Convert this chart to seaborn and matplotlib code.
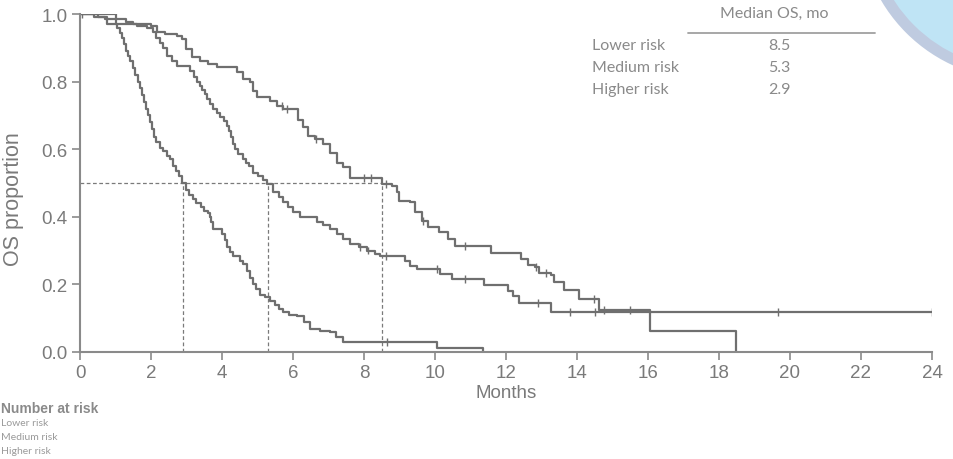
import numpy as np
import pandas as pd
import matplotlib
matplotlib.use("Agg")
import matplotlib.pyplot as plt
from matplotlib.patches import Ellipse
import seaborn as sns

# ---------------- data ----------------
groups = ["Lower risk", "Medium risk", "Higher risk"]
medians = [8.5, 5.3, 2.9]

lower_t = [0, 1.0, 1.3, 1.5, 2.0, 2.16, 2.4, 2.72, 2.87, 3.0, 3.15, 3.38, 3.6, 3.85, 4.41, 4.6, 4.79, 4.88,
           4.98, 5.35, 5.54, 5.73, 6.15, 6.29, 6.42, 6.62, 6.85, 7.04, 7.23, 7.42, 7.6, 8.5, 8.78, 8.92, 9.0,
           9.3, 9.44, 9.62, 9.8, 10.12, 10.38, 10.56, 11.57, 12.42, 12.62, 12.82, 12.92, 13.27, 13.35, 13.62,
           14.07, 14.62, 16.06, 18.49]
lower_s = [1.0, 0.985, 0.975, 0.97, 0.965, 0.947, 0.94, 0.935, 0.925, 0.896, 0.872, 0.861, 0.852, 0.842,
           0.827, 0.807, 0.80, 0.773, 0.754, 0.743, 0.728, 0.719, 0.685, 0.665, 0.64, 0.63, 0.615, 0.59, 0.56,
           0.546, 0.515, 0.497, 0.49, 0.473, 0.447, 0.443, 0.414, 0.388, 0.37, 0.355, 0.333, 0.314, 0.294,
           0.276, 0.258, 0.251, 0.234, 0.227, 0.207, 0.182, 0.156, 0.125, 0.061, 0.0]
lower_c = [0.05, 5.7, 5.82, 6.65, 8.0, 8.2, 8.62, 9.65, 10.85, 12.85, 13.12, 14.47, 14.77, 15.5]

medium_t = [0, 0.4, 0.7, 1.0, 1.6, 1.9, 2.06, 2.15, 2.25, 2.35, 2.45, 2.6, 2.73, 3.1, 3.2, 3.3, 3.38, 3.45,
            3.52, 3.57, 3.66, 3.75, 3.85, 3.95, 4.05, 4.14, 4.2, 4.25, 4.3, 4.36, 4.45, 4.6, 4.68, 4.75, 4.87,
            5.0, 5.15, 5.27, 5.44, 5.6, 5.72, 5.85, 6.0, 6.2, 6.67, 6.85, 7.04, 7.25, 7.41, 7.6, 7.85, 8.08,
            8.3, 8.45, 9.15, 9.3, 9.5, 10.14, 10.48, 11.37, 12.07, 12.2, 12.37, 13.27]
medium_s = [1.0, 0.99, 0.985, 0.97, 0.965, 0.96, 0.947, 0.93, 0.915, 0.9, 0.876, 0.86, 0.846, 0.83, 0.815,
            0.80, 0.788, 0.775, 0.762, 0.75, 0.735, 0.72, 0.707, 0.695, 0.683, 0.67, 0.655, 0.635, 0.615, 0.60,
            0.585, 0.57, 0.56, 0.55, 0.53, 0.52, 0.51, 0.497, 0.473, 0.458, 0.443, 0.43, 0.414, 0.40, 0.385,
            0.375, 0.364, 0.35, 0.334, 0.32, 0.31, 0.30, 0.29, 0.284, 0.27, 0.255, 0.245, 0.23, 0.216, 0.198,
            0.18, 0.166, 0.145, 0.118]
medium_c = [7.9, 8.1, 8.62, 10.05, 10.85, 12.9, 13.8, 14.5, 19.66, 24.0]

higher_t = [0, 0.5, 0.75, 1.05, 1.12, 1.18, 1.24, 1.3, 1.36, 1.42, 1.48, 1.55, 1.62, 1.68, 1.74, 1.8, 1.86,
            1.92, 1.97, 2.02, 2.08, 2.15, 2.25, 2.35, 2.45, 2.54, 2.62, 2.7, 2.78, 2.87, 3.0, 3.08, 3.18, 3.28,
            3.4, 3.5, 3.6, 3.66, 3.7, 3.75, 4.0, 4.08, 4.15, 4.22, 4.31, 4.5, 4.6, 4.7, 4.78, 4.87, 4.95, 5.07,
            5.2, 5.35, 5.5, 5.6, 5.72, 5.9, 6.1, 6.3, 6.48, 6.75, 7.04, 7.2, 7.41, 10.06, 11.35]
higher_s = [1.0, 0.99, 0.97, 0.96, 0.945, 0.93, 0.91, 0.89, 0.875, 0.86, 0.84, 0.82, 0.80, 0.78, 0.76, 0.74,
            0.72, 0.70, 0.68, 0.66, 0.635, 0.62, 0.605, 0.595, 0.58, 0.57, 0.55, 0.535, 0.52, 0.50, 0.48, 0.465,
            0.453, 0.44, 0.43, 0.418, 0.41, 0.40, 0.385, 0.364, 0.35, 0.33, 0.31, 0.295, 0.284, 0.27, 0.26,
            0.24, 0.22, 0.20, 0.185, 0.17, 0.162, 0.152, 0.14, 0.128, 0.118, 0.11, 0.107, 0.09, 0.068, 0.062,
            0.059, 0.045, 0.03, 0.013, 0.0]
higher_c = [8.65]

x_ticks = [0, 2, 4, 6, 8, 10, 12, 14, 16, 18, 20, 22, 24]
y_ticks = [0.0, 0.2, 0.4, 0.6, 0.8, 1.0]

curves = {
    "Lower risk": (lower_t, lower_s, lower_c),
    "Medium risk": (medium_t, medium_s, medium_c),
    "Higher risk": (higher_t, higher_s, higher_c),
}
end_time = {"Lower risk": 18.49, "Medium risk": 24.0, "Higher risk": 11.35}

rows, crows = [], []
for g, (t, s, c) in curves.items():
    assert len(t) == len(s), g
    tt = list(t) + ([end_time[g]] if t[-1] < end_time[g] else [])
    ss = list(s) + ([s[-1]] if t[-1] < end_time[g] else [])
    for a, b in zip(tt, ss):
        rows.append((g, a, b))
    for ct in c:
        idx = np.searchsorted(np.array(t), ct, side="right") - 1
        crows.append((g, ct, s[idx]))
df = pd.DataFrame(rows, columns=["group", "t", "s"])
cdf = pd.DataFrame(crows, columns=["group", "t", "s"])

# ---------------- figure ----------------
W, H = 954, 460
sns.set_style("white")
plt.rcParams["font.family"] = ["Liberation Sans", "DejaVu Sans"]
fig = plt.figure(figsize=(W / 100, H / 100), dpi=100)

# decorative circle top-right (behind the axes)
fig.add_artist(Ellipse((1020 / W, 1 - (-80) / H), 322 / W, 322 / H,
                       transform=fig.transFigure, facecolor="#bfcbe0", edgecolor="none", zorder=0))
fig.add_artist(Ellipse((1020 / W, 1 - (-80) / H), 300 / W, 300 / H,
                       transform=fig.transFigure, facecolor="#bfe4f5", edgecolor="none", zorder=0))

ax = fig.add_axes([80 / W, 1 - 353 / H, (932 - 80) / W, (353 - 15) / H])
ax.set_facecolor("none")
ax.set_zorder(1)

line_col = "#6f6f6f"
gray = "#8a8a8a"
pal = {g: line_col for g in groups}

sns.lineplot(data=df, x="t", y="s", hue="group", palette=pal, drawstyle="steps-post",
             estimator=None, sort=False, units="group", legend=False, linewidth=1.6, ax=ax)
sns.scatterplot(data=cdf, x="t", y="s", hue="group", palette=pal, marker="|", s=30,
                linewidth=1.0, legend=False, ax=ax, zorder=3)

# median reference lines
dash_kw = dict(color="#7a7a7a", linewidth=0.9, linestyle=(0, (3, 2)), zorder=1)
ax.plot([0, max(medians)], [0.5, 0.5], **dash_kw)
for m in medians:
    ax.plot([m, m], [0, 0.5], **dash_kw)

ax.set_xlim(0, 24)
ax.set_ylim(0, 1.0)
ax.set_xticks(x_ticks)
ax.set_yticks(y_ticks)
ax.set_yticklabels([f"{v:.1f}" for v in y_ticks])
ax.set_xlabel("Months", fontsize=13.5, color="#7a7a7a", labelpad=2)
ax.set_ylabel("OS proportion", fontsize=15.5, color="#7a7a7a")
ax.yaxis.set_label_coords(-(80 - 24) / 852, 0.455)
ax.tick_params(axis="both", direction="out", length=6, width=1.2, color=gray,
               labelcolor="#7a7a7a", labelsize=13.5, bottom=True, left=True, pad=3)
for side in ["top", "right"]:
    ax.spines[side].set_visible(False)
for side in ["left", "bottom"]:
    ax.spines[side].set_color(gray)
    ax.spines[side].set_linewidth(1.5)

# median table
tfont = ["Lato", "DejaVu Sans"]
tcol = "#8a8a8a"
def px(x, y):
    return x / W, 1 - y / H
fig.text(*px(774, 14), "Median OS, mo", ha="center", va="center", fontsize=11.5, color=tcol, family=tfont)
fig.add_artist(plt.Line2D([688 / W, 875 / W], [1 - 34 / H, 1 - 34 / H], transform=fig.transFigure,
                          color="#a0a0a0", linewidth=1.3))
for i, (g, m) in enumerate(zip(groups, medians)):
    y = 46 + 22 * i
    fig.text(*px(592, y), g, ha="left", va="center", fontsize=11.5, color=tcol, family=tfont)
    fig.text(*px(779, y), f"{m:.1f}", ha="center", va="center", fontsize=11.5, color=tcol, family=tfont)

# number at risk
fig.text(*px(1, 409), "Number at risk", ha="left", va="center", fontsize=10,
         fontweight="bold", color="#8a8a8a")
for i, g in enumerate(groups):
    fig.text(*px(1, 424 + 14 * i), g, ha="left", va="center", fontsize=7.5, color="#9a9a9a", family=tfont)

fig.savefig("out.png", dpi=100)
